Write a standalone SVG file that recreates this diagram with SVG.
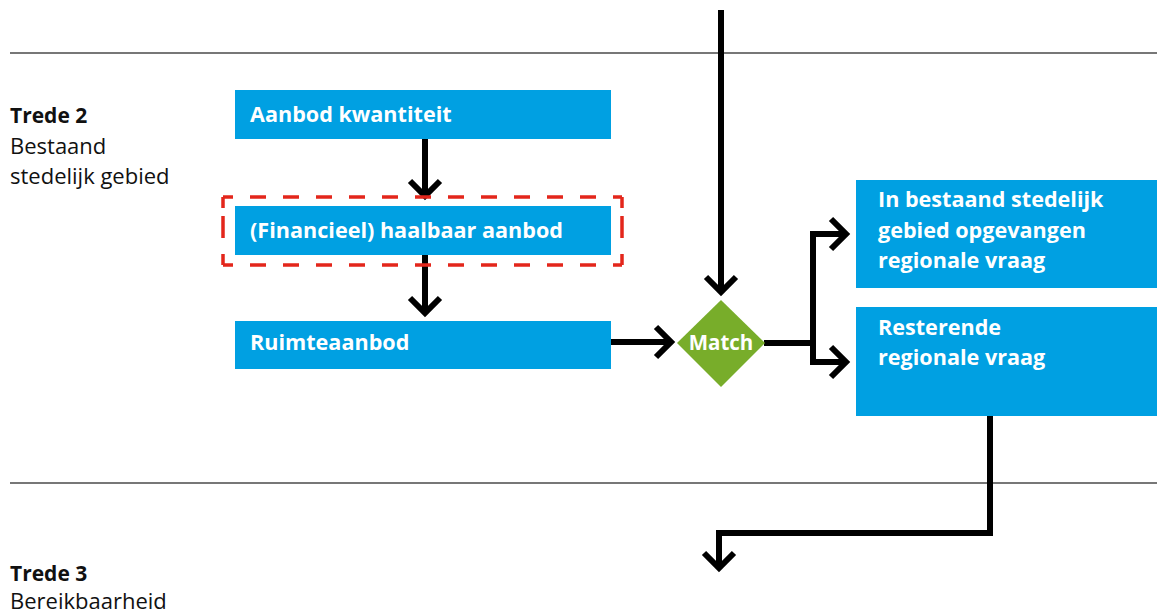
<svg xmlns="http://www.w3.org/2000/svg" width="1157" height="614" viewBox="0 0 1157 614">
<defs>
<style>
.box{fill:#00a0e2}
.bt{font-family:"Open Sans","Noto Sans",sans-serif;font-weight:700;font-size:21.6px;fill:#ffffff}
.mt{font-family:"Open Sans","Noto Sans",sans-serif;font-weight:700;font-size:20.5px;fill:#ffffff}
.lt{font-family:"Open Sans","Noto Sans",sans-serif;font-size:22px;fill:#111111}
.lb{font-weight:700;font-size:21px}
.rule{stroke:#4a4a4a;stroke-width:1.3}
.con{fill:none;stroke:#000000;stroke-width:6;stroke-linejoin:miter}
.dash{fill:none;stroke:#e3261b;stroke-width:3.5}
</style>
<marker id="chev" markerUnits="userSpaceOnUse" viewBox="-25 -25 50 50" markerWidth="50" markerHeight="50" refX="0" refY="0" orient="auto">
<path d="M-15 -15 L0 0 L-15 15" fill="none" stroke="#000000" stroke-width="6" stroke-linejoin="miter"/>
</marker>
</defs>
<rect width="1157" height="614" fill="#ffffff"/>
<g id="rules">
<line class="rule" x1="10" y1="53" x2="1157" y2="53"/>
<line class="rule" x1="10" y1="483" x2="1157" y2="483"/>
</g>
<g id="labels">
<text class="lt lb" x="10" y="123">Trede 2</text>
<text class="lt" x="10" y="154">Bestaand</text>
<text class="lt" x="10" y="184">stedelijk gebied</text>
<text class="lt lb" x="10" y="581">Trede 3</text>
<text class="lt" x="10" y="609">Bereikbaarheid</text>
</g>
<g id="connectors">
<path class="con" d="M425 139 V196" marker-end="url(#chev)"/>
<path class="con" d="M425 255 V313" marker-end="url(#chev)"/>
<path class="con" d="M611 342 H671" marker-end="url(#chev)"/>
<path class="con" d="M721 10 V292" marker-end="url(#chev)"/>
<path class="con" d="M813 343 V234 H846" marker-end="url(#chev)"/>
<path class="con" d="M764 343 H813 V362 H846" marker-end="url(#chev)"/>
<path class="con" d="M990 416 V533 H719 V568" marker-end="url(#chev)"/>
</g>
<g id="aanbod-kwantiteit">
<rect class="box" x="235" y="90" width="376" height="49"/>
<text class="bt" x="250" y="122">Aanbod kwantiteit</text>
</g>
<g id="financieel-haalbaar-aanbod">
<rect class="box" x="235" y="206" width="376" height="49"/>
<text class="bt" x="250" y="238">(Financieel) haalbaar aanbod</text>
<path class="dash" d="M223 197 H622" stroke-dasharray="16 17" stroke-dashoffset="6"/>
<path class="dash" d="M223 265 H622" stroke-dasharray="16 17" stroke-dashoffset="6"/>
<path class="dash" d="M223 197 V265" stroke-dasharray="11 8 22 16 11"/>
<path class="dash" d="M622 197 V265" stroke-dasharray="11 8 22 16 11"/>
</g>
<g id="ruimteaanbod">
<rect class="box" x="235" y="321" width="376" height="48"/>
<text class="bt" x="250" y="350">Ruimteaanbod</text>
</g>
<g id="match">
<polygon points="721,300 765,343 721,387 677,343" fill="#78ad2a"/>
<text class="mt" x="721" y="350" text-anchor="middle">Match</text>
</g>
<g id="opgevangen-vraag">
<rect class="box" x="856" y="180" width="301" height="108"/>
<text class="bt" x="878" y="207">In bestaand stedelijk</text>
<text class="bt" x="878" y="238">gebied opgevangen</text>
<text class="bt" x="878" y="268">regionale vraag</text>
</g>
<g id="resterende-vraag">
<rect class="box" x="856" y="307" width="301" height="109"/>
<text class="bt" x="878" y="335">Resterende</text>
<text class="bt" x="878" y="365">regionale vraag</text>
</g>
</svg>
